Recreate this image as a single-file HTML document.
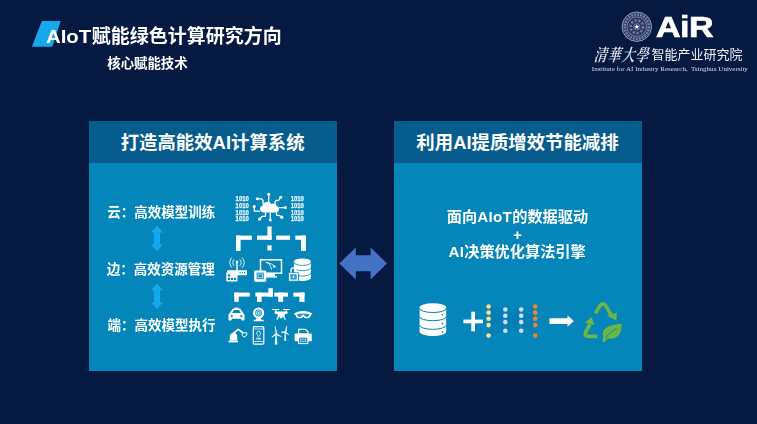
<!DOCTYPE html>
<html lang="zh-CN" style="background:#061941">
<head>
<meta charset="utf-8">
<title>AIoT赋能绿色计算研究方向</title>
<style>
html,body{margin:0;padding:0;}
body{width:757px;height:424px;overflow:hidden;background:#061941;position:relative;
  font-family:"Liberation Sans","Noto Sans CJK SC",sans-serif;color:#fff;}
.abs{position:absolute;white-space:nowrap;line-height:1;}
.title{left:46.4px;top:26.7px;font-size:19px;font-weight:bold;}
.lat{display:inline-block;transform:scaleX(1.07);transform-origin:0 50%;margin-right:3.2px;}
.sub{left:107.3px;top:56.7px;font-size:13.4px;font-weight:bold;}
.panel{position:absolute;top:121px;width:248px;height:249.8px;overflow:hidden;background:#0586ba;}
.panel .hd{position:absolute;left:0;top:0;width:100%;height:41.7px;background:#065c8d;
  font-size:18.4px;font-weight:bold;text-align:center;line-height:43.5px;white-space:nowrap;}
#p1{left:89px;}
#p2{left:393.5px;}
.item{font-size:13.5px;font-weight:bold;}
.rt{font-size:15.2px;font-weight:bold;text-align:center;width:249px;left:393px;}
.logo-cn{font-size:13px;left:651.4px;top:48.2px;color:#eef0f5;}
.logo-cal{font-family:"Liberation Serif","Noto Serif CJK SC",serif;font-weight:600;font-style:italic;font-size:13px;left:593.6px;top:49.4px;transform:skewX(-6deg) scaleY(1.3);transform-origin:0 50%;color:#e6e9f0;letter-spacing:0.9px;}
.logo-en{font-family:"Liberation Serif",serif;font-size:7px;left:591.8px;top:66px;color:#d9dde8;}
.air{font-size:30.4px;font-weight:bold;left:656.2px;top:11.4px;letter-spacing:-0.5px;transform:scaleX(1.12);transform-origin:0 50%;-webkit-text-stroke:0.7px #fff;}
svg{position:absolute;left:0;top:0;}
#wrap{position:absolute;left:0;top:0;width:757px;height:424px;overflow:hidden;}
.soft{filter:blur(0.55px);}
</style>
</head>
<body>
<div id="wrap" class="soft">
<svg width="757" height="424" viewBox="0 0 757 424">
  <polygon points="41.8,21 60.7,21 52.4,46.7 31.9,46.7" fill="#16a8ee"/>
</svg>
<div class="abs title"><span class="lat">AIoT</span>赋能绿色计算研究方向</div>
<div class="abs sub">核心赋能技术</div>

<div class="panel" id="p1"><div class="hd" style="text-indent:-0.8px">打造高能效AI计算系统</div></div>
<div class="panel" id="p2"><div class="hd">利用AI提质增效节能减排</div></div>

<div class="abs item" style="left:107.3px;top:205.6px;">云：高效模型训练</div>
<div class="abs item" style="left:106.8px;top:262.6px;">边：高效资源管理</div>
<div class="abs item" style="left:107.5px;top:319.4px;">端：高效模型执行</div>

<div class="abs rt" style="top:208.7px;">面向<span style="letter-spacing:0.3px">AIoT</span>的数据驱动</div>
<div class="abs rt" style="top:226.6px;">+</div>
<div class="abs rt" style="top:243.7px;left:392.6px"><span style="letter-spacing:0.3px">AI</span>决策优化算法引擎</div>

<svg width="757" height="424" viewBox="0 0 757 424">
  <!-- middle double arrow -->
  <polygon points="339.4,263.4 355.8,247.4 355.8,255.3 370.6,255.3 370.6,247.4 387,263.4 370.6,279.4 370.6,271.3 355.8,271.3 355.8,279.4" fill="#4472c4"/>
  <!-- vertical arrows -->
  <g fill="#12a9ef">
    <polygon points="157,225.6 163,232.6 160,232.6 160,244.4 163,244.4 157,251.4 151,244.4 154,244.4 154,232.6 151,232.6"/>
    <polygon points="157,283.6 163,290.6 160,290.6 160,302.2 163,302.2 157,309.2 151,302.2 154,302.2 154,290.6 151,290.6"/>
  </g>
</svg>


<!-- ICONS -->
<svg width="757" height="424" viewBox="0 0 757 424" id="icons">
  <!-- binary blocks -->
  <g font-family="Liberation Sans, sans-serif" font-weight="bold" font-size="6.800" fill="#eef7fc" stroke="#eef7fc" stroke-width="0.250">
    <text x="235.6" y="201.1" textLength="13.200" lengthAdjust="spacingAndGlyphs">1010</text>
    <text x="235.6" y="207.5" textLength="13.200" lengthAdjust="spacingAndGlyphs">1010</text>
    <text x="235.6" y="214.6" textLength="13.200" lengthAdjust="spacingAndGlyphs">1010</text>
    <text x="235.6" y="221.3" textLength="13.200" lengthAdjust="spacingAndGlyphs">1010</text>
    <text x="290.7" y="201.1" textLength="13.200" lengthAdjust="spacingAndGlyphs">1010</text>
    <text x="290.7" y="207.5" textLength="13.200" lengthAdjust="spacingAndGlyphs">1010</text>
    <text x="290.7" y="214.6" textLength="13.200" lengthAdjust="spacingAndGlyphs">1010</text>
    <text x="290.7" y="221.3" textLength="13.200" lengthAdjust="spacingAndGlyphs">1010</text>
  </g>
  <!-- cloud with nodes -->
  <g stroke="#fff" stroke-width="1.3" fill="none" stroke-linecap="round" stroke-linejoin="round">
    <path d="M268.7 194.5V203"/>
    <path d="M257.5 198.8H261.5L263 200.5V204"/>
    <path d="M280.6 197.5L278.5 200.5H276L275 202V204"/>
    <path d="M254.3 207V211.2H259.5"/>
    <path d="M285 207.6H279.5"/>
    <path d="M259.8 219L262 216.3H265.5V213"/>
    <path d="M270.3 219.5V213"/>
    <path d="M281.5 217L279 215.3H276.5V213"/>
  </g>
  <g fill="#fff">
    <circle cx="268.7" cy="194.2" r="1.5"/>
    <circle cx="257.3" cy="198.7" r="1.5"/>
    <circle cx="280.8" cy="197.3" r="1.5"/>
    <circle cx="254.2" cy="206.6" r="1.6"/>
    <circle cx="285.4" cy="207.6" r="1.5"/>
    <circle cx="259.6" cy="219.2" r="1.6"/>
    <circle cx="270.3" cy="220" r="1.5"/>
    <circle cx="281.8" cy="217.2" r="1.6"/>
    <path d="M263.4 212.5a3.8 3.6 0 0 1 -0.4 -7.1a4.3 3.5 0 0 1 8.2 -1.500a3.800 3.400 0 0 1 5.600 2.200a3.300 3.300 0 0 1 -0.600 6.400z"/>
  </g>
  <!-- connectors level 1 -->
  <g fill="#fff">
    <rect x="267.4" y="226.4" width="4.2" height="13.4"/>
    <rect x="236" y="235.6" width="15.8" height="4.2"/>
    <rect x="236" y="235.6" width="4.6" height="15.3"/>
    <rect x="257" y="235.6" width="14.6" height="4.2"/>
    <rect x="276.2" y="235.6" width="13.8" height="4.2"/>
    <rect x="295.3" y="235.6" width="10.6" height="4.2"/>
    <rect x="301" y="235.6" width="4.9" height="15.3"/>
    <rect x="267.4" y="245.3" width="4.2" height="5.2"/>
  </g>
  <!-- router -->
  <g fill="#fff">
    <rect x="236.3" y="260.5" width="1.400" height="11"/>
    <circle cx="237" cy="262.300" r="1.300"/>
    <rect x="227" y="270.2" width="20" height="5" rx="0.8"/>
    <rect x="226.3" y="272.5" width="11.2" height="9" rx="0.8"/>
  </g>
  <g stroke="#fff" stroke-width="0.9" fill="none" stroke-linecap="round">
    <path d="M234 259.600a4 4 0 0 0 0 6"/>
    <path d="M231.600 257.800a6.800 6.800 0 0 0 0 9.600"/>
    <path d="M240 259.600a4 4 0 0 1 0 6"/>
    <path d="M242.400 257.800a6.800 6.800 0 0 1 0 9.600"/>
  </g>
  <g fill="#0586ba">
    <rect x="239.5" y="272" width="1.2" height="1.2"/><rect x="241.8" y="272" width="1.2" height="1.2"/><rect x="244.1" y="272" width="1.2" height="1.2"/>
    <rect x="228" y="277.8" width="2.2" height="2.2"/><rect x="231" y="277.8" width="2.2" height="2.2"/><rect x="234" y="277.8" width="2.2" height="2.2"/>
    <rect x="228" y="274.4" width="2.2" height="2.2"/>
  </g>
  <!-- monitor + chip -->
  <g>
    <rect x="260.5" y="259.8" width="21" height="13.4" fill="none" stroke="#fff" stroke-width="1.5"/>
    <rect x="266" y="274" width="9" height="2.6" fill="#fff"/>
    <rect x="264" y="276.2" width="13" height="1.4" fill="#fff"/>
    <path d="M265.5 262.5c3 0 5 2 6 7M267 262.6c3.500 0.500 6 2 7.500 4" stroke="#fff" stroke-width="0.9" fill="none"/>
    <path d="M273.300 264.500l3.200 2.400l-3.600 0.900z" fill="#fff"/>
    <rect x="254.200" y="270.500" width="12" height="11.300" rx="1" fill="#fff"/>
    <rect x="256.600" y="272.600" width="7.200" height="6.600" fill="#1590cf"/>
    <rect x="258" y="274" width="4.400" height="3.800" fill="none" stroke="#fff" stroke-width="0.600"/>
  </g>
  <!-- database + lock -->
  <path d="M293.900 261.500a8.500 3.100 0 0 1 17 0v16.300a8.500 3.100 0 0 1 -17 0z" fill="#fff"/>
  <g fill="none" stroke="#0586ba" stroke-width="0.800">
    <path d="M293.900 262.300a8.500 3.100 0 0 0 17 0"/>
    <path d="M293.900 267.600a8.500 3.100 0 0 0 17 0"/>
    <path d="M293.900 272.900a8.500 3.100 0 0 0 17 0"/>
  </g>
  <g>
    <rect x="288.500" y="272.400" width="10" height="8.800" rx="0.900" fill="#fff" stroke="#0586ba" stroke-width="0.900"/>
    <path d="M291 272.600v-2.200a2.500 2.500 0 0 1 5 0v2.200" fill="none" stroke="#fff" stroke-width="1.300"/>
    <rect x="290.300" y="274.200" width="6.400" height="5.400" fill="#2a9fe0"/>
    <rect x="292.900" y="275.800" width="1.300" height="2" fill="#fff"/>
  </g>
  <!-- connectors level 2 -->
  <g fill="#fff">
    <rect x="234.300" y="292.600" width="15.400" height="4"/>
    <rect x="234.300" y="292.600" width="4.400" height="9.300"/>
    <rect x="255.400" y="292.600" width="17.400" height="4"/>
    <rect x="257" y="292.600" width="4.600" height="9.300"/>
    <rect x="268.400" y="288.200" width="4.400" height="8.400"/>
    <rect x="274.300" y="292.600" width="13.700" height="4"/>
    <rect x="278.200" y="292.600" width="4.900" height="9.300"/>
    <rect x="293.300" y="292.600" width="11.200" height="4"/>
    <rect x="299.400" y="292.600" width="5.100" height="9.300"/>
  </g>
  <!-- car -->
  <g fill="#fff">
    <path d="M229.500 313.500l2.800 -4.300q0.500 -0.800 1.500 -0.800h5.400q1 0 1.500 0.800l2.800 4.300q1 0.400 1 1.600v4.500q0 0.800 -0.800 0.800h-1.700q-0.800 0 -0.800 -0.800v-0.800h-9.400v0.800q0 0.800 -0.800 0.800h-1.700q-0.800 0 -0.800 -0.800v-4.500q0 -1.200 1 -1.600z"/>
    <rect x="234.500" y="307.600" width="4" height="1.200"/>
  </g>
  <g fill="#0586ba">
    <path d="M232.200 313l1.800 -3h5l1.800 3z"/>
    <circle cx="231.800" cy="316.200" r="1.100"/><circle cx="241.200" cy="316.200" r="1.100"/>
  </g>
  <!-- webcam -->
  <g>
    <circle cx="258.600" cy="313" r="5.600" fill="#fff"/>
    <circle cx="258.600" cy="313" r="3.400" fill="#1590cf"/>
    <circle cx="258.600" cy="313" r="2.300" fill="none" stroke="#fff" stroke-width="0.700"/>
    <circle cx="258.600" cy="313" r="0.900" fill="#fff"/>
    <path d="M256.600 318h4l1 2.200h-6z" fill="#fff"/>
    <rect x="253.600" y="319.800" width="10" height="1.500" rx="0.500" fill="#fff"/>
  </g>
  <!-- drone -->
  <g fill="#fff">
    <rect x="272.200" y="309" width="7.200" height="1.100" rx="0.500"/>
    <rect x="282.800" y="309" width="7.200" height="1.100" rx="0.500"/>
    <rect x="275.200" y="309.500" width="1.300" height="2.600"/>
    <rect x="285.700" y="309.500" width="1.300" height="2.600"/>
    <path d="M274.600 311.600h13v1.800l-3.200 1.200v1.800h-6.600v-1.800l-3.200 -1.200z"/>
    <path d="M278 315.500l-1.600 4.200h1.100l1.800 -3.600zM284.200 315.500l1.600 4.200h-1.100l-1.800 -3.600z"/>
    <rect x="279.700" y="316" width="2.800" height="2.200" rx="0.500"/>
  </g>
  <!-- VR glasses -->
  <g>
    <path d="M294.200 313.200q9 -4.600 18 0v1q-1.200 0.200 -1.600 1.500q-0.600 2.600 -3 2.600h-2q-1.400 0 -2 -1.400q-0.400 -0.800 -0.800 0q-0.600 1.400 -2 1.400h-2q-2.400 0 -3 -2.600q-0.400 -1.300 -1.600 -1.500z" fill="#fff"/>
    <path d="M296.800 314.400q6.400 -1.600 12.800 0q-0.600 2.400 -2 2.400h-1.600q-0.800 0 -1.600 -1.400q-1.200 -1.600 -2.400 0q-0.800 1.400 -1.600 1.400h-1.600q-1.400 0 -2 -2.400z" fill="#1590cf"/>
  </g>
  <!-- robot arm -->
  <g fill="#fff">
    <rect x="228.600" y="340.600" width="9.400" height="1.800"/>
    <path d="M229.800 340.600v-5.400l2.400 -2.200h3.400l1.600 2.200v5.400z"/>
  </g>
  <g stroke="#fff" fill="none" stroke-linecap="round" stroke-linejoin="round">
    <path d="M232 334.400l6.200 -5l4.600 3.400" stroke-width="1.700"/>
    <path d="M243.200 332.600a2.300 2.300 0 1 0 3.400 2.400M243.600 333l2.400 -0.400M246.600 334.800l0.200 -1.800" stroke-width="1"/>
  </g>
  <!-- phone -->
  <g>
    <rect x="253.300" y="326.600" width="10.500" height="17.600" rx="1.200" fill="none" stroke="#fff" stroke-width="1.200"/>
    <rect x="253.300" y="328.600" width="10.500" height="0.800" fill="#fff"/>
    <rect x="253.300" y="341" width="10.500" height="0.800" fill="#fff"/>
    <path d="M258.600 331.200a1.900 1.900 0 0 1 1.900 1.900c0 1.300 -1.900 3.500 -1.900 3.500s-1.900 -2.200 -1.900 -3.500a1.900 1.900 0 0 1 1.900 -1.900z" fill="none" stroke="#fff" stroke-width="0.800"/>
    <rect x="256.200" y="337.600" width="4.800" height="2" fill="#d6ecf8" opacity="0.800"/>
  </g>
  <!-- wind turbines -->
  <g fill="#fff">
    <path d="M275.600 334.600l0.900 0l0.900 10h-2.700z"/>
    <path d="M276 333.600l-0.900 -7.200l1.700 6.800zM276.300 333.400l5 3.200l-5.400 -1.800zM275.600 333.600l-3.800 3.600l4.400 -2.600z" stroke="#fff" stroke-width="0.600" stroke-linejoin="round"/>
    <path d="M284.800 332.200h0.800l0.600 8.600h-2z"/>
    <path d="M285.200 331.600l1.500 -5.400l-0.500 5.600zM285.400 331.800l3.400 2.800l-3.800 -1.600zM285 331.400l-4 0.800l4.200 0.600z" stroke="#fff" stroke-width="0.600" stroke-linejoin="round"/>
  </g>
  <!-- printer -->
  <g>
    <path d="M298.600 329.400h6.800l2.600 2.400v2.400h-9.400z" fill="none" stroke="#fff" stroke-width="1.200" stroke-linejoin="round"/>
    <rect x="294.600" y="333.600" width="17.200" height="7.600" rx="1" fill="#fff"/>
    <rect x="298.600" y="337.200" width="9.200" height="6.400" fill="#1590cf" stroke="#fff" stroke-width="1"/>
    <rect x="300.600" y="339.200" width="5.200" height="2.400" fill="none" stroke="#d6ecf8" stroke-width="0.600"/>
  </g>

  <!-- RIGHT PANEL -->
  <!-- database -->
  <path d="M419.6 307.4a13.3 4.1 0 0 1 26.600 0v24.400a13.300 4.100 0 0 1 -26.600 0z" fill="#fff"/>
  <g fill="none" stroke="#0586ba" stroke-width="1">
    <path d="M419.600 308.400a13.300 4.100 0 0 0 26.600 0"/>
    <path d="M419.600 316.600a13.300 4.100 0 0 0 26.600 0"/>
    <path d="M419.600 325.200a13.300 4.100 0 0 0 26.600 0"/>
  </g>
  <g fill="#1590cf">
    <circle cx="442.500" cy="314.800" r="0.900"/><circle cx="442.500" cy="323.400" r="0.900"/><circle cx="442.500" cy="332" r="0.900"/>
  </g>
  <!-- plus -->
  <g fill="#fff">
    <rect x="463.400" y="319.600" width="19.600" height="3.700"/>
    <rect x="471.300" y="311.700" width="3.700" height="19.600"/>
  </g>
  <!-- neural net -->
  <g stroke="#0b6fa8" stroke-width="0.500" opacity="0.700" fill="none" id="nnlines"><path d="M488.6 306.5L505.3 309.5"/><path d="M488.6 306.5L505.3 315.8"/><path d="M488.6 306.5L505.3 322.1"/><path d="M488.6 306.5L505.3 330.7"/><path d="M488.6 312.6L505.3 309.5"/><path d="M488.6 312.6L505.3 315.8"/><path d="M488.6 312.6L505.3 322.1"/><path d="M488.6 312.6L505.3 330.7"/><path d="M488.6 318.8L505.3 309.5"/><path d="M488.6 318.8L505.3 315.8"/><path d="M488.6 318.8L505.3 322.1"/><path d="M488.6 318.8L505.3 330.7"/><path d="M488.6 325.1L505.3 309.5"/><path d="M488.6 325.1L505.3 315.8"/><path d="M488.6 325.1L505.3 322.1"/><path d="M488.6 325.1L505.3 330.7"/><path d="M488.6 335.6L505.3 309.5"/><path d="M488.6 335.6L505.3 315.8"/><path d="M488.6 335.6L505.3 322.1"/><path d="M488.6 335.6L505.3 330.7"/><path d="M505.3 309.5L521.2 309.5"/><path d="M505.3 309.5L521.2 315.8"/><path d="M505.3 309.5L521.2 322.1"/><path d="M505.3 309.5L521.2 330.7"/><path d="M505.3 315.8L521.2 309.5"/><path d="M505.3 315.8L521.2 315.8"/><path d="M505.3 315.8L521.2 322.1"/><path d="M505.3 315.8L521.2 330.7"/><path d="M505.3 322.1L521.2 309.5"/><path d="M505.3 322.1L521.2 315.8"/><path d="M505.3 322.1L521.2 322.1"/><path d="M505.3 322.1L521.2 330.7"/><path d="M505.3 330.7L521.2 309.5"/><path d="M505.3 330.7L521.2 315.8"/><path d="M505.3 330.7L521.2 322.1"/><path d="M505.3 330.7L521.2 330.7"/><path d="M521.2 309.5L535.2 306.5"/><path d="M521.2 309.5L535.2 312.6"/><path d="M521.2 309.5L535.2 318.8"/><path d="M521.2 309.5L535.2 325.1"/><path d="M521.2 309.5L535.2 335.6"/><path d="M521.2 315.8L535.2 306.5"/><path d="M521.2 315.8L535.2 312.6"/><path d="M521.2 315.8L535.2 318.8"/><path d="M521.2 315.8L535.2 325.1"/><path d="M521.2 315.8L535.2 335.6"/><path d="M521.2 322.1L535.2 306.5"/><path d="M521.2 322.1L535.2 312.6"/><path d="M521.2 322.1L535.2 318.8"/><path d="M521.2 322.1L535.2 325.1"/><path d="M521.2 322.1L535.2 335.6"/><path d="M521.2 330.7L535.2 306.5"/><path d="M521.2 330.7L535.2 312.6"/><path d="M521.2 330.7L535.2 318.8"/><path d="M521.2 330.7L535.2 325.1"/><path d="M521.2 330.7L535.2 335.6"/></g>
  <g id="nndots"><circle cx="488.6" cy="306.5" r="2.300" fill="#ffdf8c"/><circle cx="488.6" cy="312.6" r="2.300" fill="#ffdf8c"/><circle cx="488.6" cy="318.8" r="2.300" fill="#ffdf8c"/><circle cx="488.6" cy="325.1" r="2.300" fill="#ffdf8c"/><circle cx="488.6" cy="335.6" r="2.300" fill="#ffdf8c"/><circle cx="505.3" cy="309.5" r="2.300" fill="#d3daf7"/><circle cx="505.3" cy="315.8" r="2.300" fill="#d3daf7"/><circle cx="505.3" cy="322.1" r="2.300" fill="#d3daf7"/><circle cx="505.3" cy="330.7" r="2.300" fill="#d3daf7"/><circle cx="521.2" cy="309.5" r="2.300" fill="#d3daf7"/><circle cx="521.2" cy="315.8" r="2.300" fill="#d3daf7"/><circle cx="521.2" cy="322.1" r="2.300" fill="#d3daf7"/><circle cx="521.2" cy="330.7" r="2.300" fill="#d3daf7"/><circle cx="535.2" cy="306.5" r="2.300" fill="#f4842a"/><circle cx="535.2" cy="312.6" r="2.300" fill="#f4842a"/><circle cx="535.2" cy="318.8" r="2.300" fill="#f4842a"/><circle cx="535.2" cy="325.1" r="2.300" fill="#f4842a"/><circle cx="535.2" cy="335.6" r="2.300" fill="#f4842a"/></g>
  <!-- arrow -->
  <polygon points="549.500,318.200 567.500,318.200 567.500,315.400 573.800,321.100 567.500,326.800 567.500,324.100 549.500,324.100" fill="#fff"/>
  <!-- recycle -->
  <g fill="none" stroke="#6cb644" stroke-width="3.700" stroke-linejoin="round" stroke-linecap="butt">
    <path d="M595.400 313.400l4.600 -7.800q2.800 -3.400 5.600 0l5.800 9.600"/>
    <path d="M597.200 336.400h-8.600q-4.800 -0.600 -2.800 -4.600l4.200 -7.600"/>
  </g>
  <g fill="#6cb644">
    <path d="M606.800 315.600l10 -2.800l-0.400 7.800z"/>
    <path d="M585 322.400l6.600 -5.400l2.800 8.200z"/>
    <path d="M603.200 336.400c-1.800 -6.600 2.600 -11.200 18.400 -12.600c0.600 10.200 -4 16.200 -13.800 14.600l-4 4.200l-1.400 -1.400z"/>
  </g>
  <path d="M605.400 337.800q5 -6 11.400 -9.600" stroke="#0586ba" stroke-width="0.900" fill="none"/>
</svg>

<!-- logo -->
<svg width="757" height="424" viewBox="0 0 757 424">
  <circle cx="636.8" cy="26.7" r="15" fill="#2f3c68"/>
  <circle cx="636.8" cy="26.7" r="14.7" fill="none" stroke="#9099ba" stroke-width="1"/>
  <circle cx="636.8" cy="26.7" r="12.1" fill="none" stroke="#7b86aa" stroke-width="2.4" stroke-dasharray="1.7 1.3"/>
  <circle cx="636.8" cy="26.7" r="9.8" fill="#2b3763" stroke="#8892b3" stroke-width="0.8"/>
  <circle cx="636.8" cy="26.7" r="6.3" fill="none" stroke="#6f7aa0" stroke-width="2.6" stroke-dasharray="2.2 1.6"/>
  <circle cx="636.8" cy="26.7" r="3.2" fill="#34406c" stroke="#8791b2" stroke-width="0.6"/>
  <polygon points="636.8,24.1 637.5,26 639.4,26 637.9,27.2 638.4,29.1 636.8,28 635.2,29.1 635.7,27.2 634.2,26 636.1,26" fill="#fff"/>
</svg>
<div class="abs air">AiR</div>
<div class="abs logo-cal">清華大學</div>
<div class="abs logo-cn">智能产业研究院</div>
<div class="abs logo-en">Institute for AI Industry Research,&nbsp; Tsinghua University</div>
</div>
</body>
</html>
